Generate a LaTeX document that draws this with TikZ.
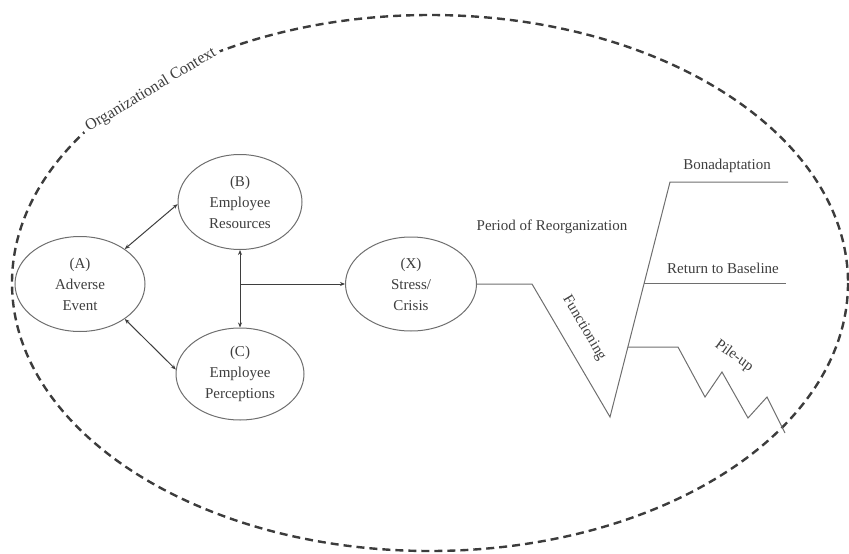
\documentclass[tikz,border=0pt]{standalone}
\usepackage{fontspec}
\setmainfont{Liberation Serif}
\usetikzlibrary{arrows.meta,shapes.geometric}
\definecolor{linegray}{HTML}{6E6E6E}
\definecolor{txtgray}{HTML}{3E3E3E}
\definecolor{dashgray}{HTML}{3C3C3C}
\begin{document}
\begin{tikzpicture}[x=1pt,y=-1pt,
  oval/.style={ellipse,draw=linegray,line width=1pt,inner sep=0pt,text=txtgray,
    font=\fontsize{15}{21}\selectfont,align=center},
  conn/.style={draw=txtgray,line width=1pt,{Stealth[length=5pt,width=4pt]}-{Stealth[length=5pt,width=4pt]}},
  traj/.style={draw=linegray,line width=1pt},
  lbl/.style={text=txtgray,font=\fontsize{15}{18}\selectfont,inner sep=1pt}]
\useasboundingbox (0,0) rectangle (849,554);
% outer context
\draw[dashgray,line width=2.4pt,dash pattern=on 8pt off 5pt] (430,283) ellipse [x radius=418, y radius=268];
\node[lbl,fill=white,rotate=31,inner sep=4pt,font=\fontsize{16}{18}\selectfont] (ctx) at (151,90) {Organizational Context};
% nodes
\node[oval,minimum width=130,minimum height=95] (A) at (80,284) {(A)\\Adverse\\Event};
\node[oval,minimum width=124,minimum height=95] (B) at (240,202) {(B)\\Employee\\Resources};
\node[oval,minimum width=128,minimum height=92] (C) at (240,374) {(C)\\Employee\\Perceptions};
\node[oval,minimum width=131,minimum height=94] (X) at (411,284) {(X)\\Stress/\\Crisis};
% connectors
\draw[conn] (A.38) -- (B.182);
\draw[conn] (A.-38) -- (C.176);
\draw[conn] (B.south) -- (C.north);
\coordinate (mid) at (240,284);
\draw[draw=txtgray,line width=1pt,-{Stealth[length=5pt,width=4pt]}] (mid) -- (X.west);
% trajectory
\coordinate (p1) at (532,284);
\coordinate (low) at (610,417);
\coordinate (top) at (670,182);
\coordinate (topend) at (788,182);
\coordinate (mb) at (644,283);
\coordinate (mbend) at (786,283);
\coordinate (pb) at (628,347);
\draw[traj] (X.east) -- (p1) -- (low) -- (top) -- (topend);
\draw[traj] (mb) -- (mbend);
\draw[traj] (pb) -- (678,347) -- (705,397) -- (722,372) -- (748,418) -- (767,397) -- (785,433);
% labels
\node[lbl] (reorg) at (552,227) {Period of Reorganization};
\node[lbl] (bona) at (727,166) {Bonadaptation};
\node[lbl] (base) at (723,268) {Return to Baseline};
\node[lbl,rotate=-59.6] (func) at (584,328) {Functioning};
\node[lbl,rotate=-36] (pile) at (734,356) {Pile-up};
\end{tikzpicture}
\end{document}
